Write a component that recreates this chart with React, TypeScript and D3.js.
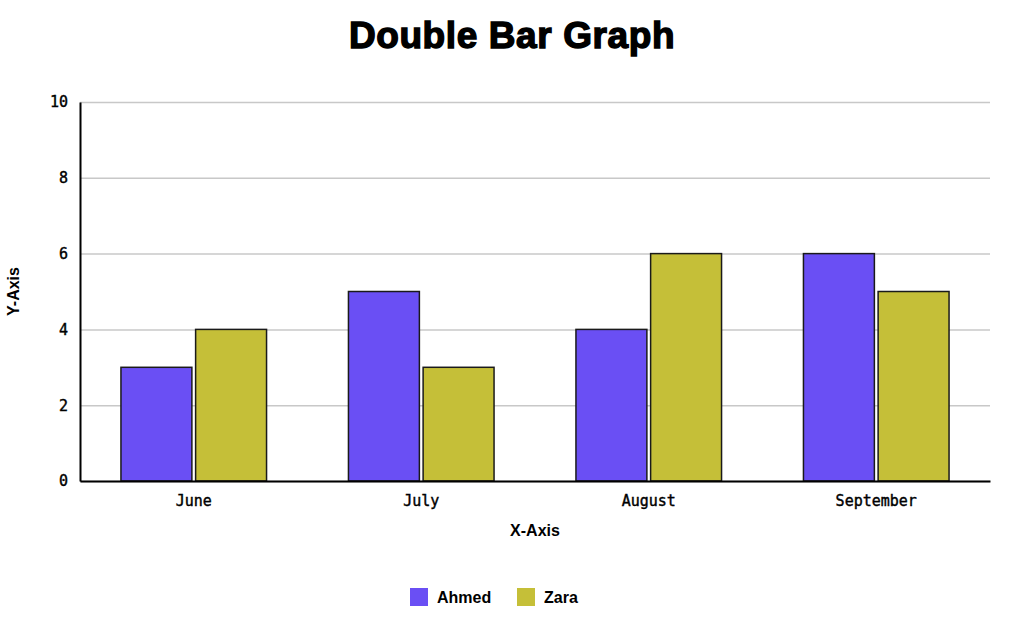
import * as d3 from "d3";
import { useEffect, useRef } from "react";

const months = ["June", "July", "August", "September"];
const seriesNames = ["Ahmed", "Zara"];
const ahmed = [3, 5, 4, 6];
const zara = [4, 3, 6, 5];
const yTicks = [0, 2, 4, 6, 8, 10];
const colors = ["#6a4ff4", "#c5bf38"];

const App = () => {
    const svgRef = useRef<SVGSVGElement>(null);
    const width = 1024;
    const height = 626;
    const marginLeft = 80;
    const marginTop = 102;
    const chartWidth = 910;
    const chartHeight = 379;

    useEffect(() => {
        if (svgRef.current) {
            drawChart();
        }
    }, [svgRef]);

    const drawChart = () => {
        const svg = d3.select(svgRef.current);
        svg.selectAll("*").remove();

        const values = [ahmed, zara];

        const scaleX = d3.scaleBand().domain(months).range([0, chartWidth]).paddingInner(0.36).paddingOuter(0.18);
        const scaleX1 = d3.scaleBand().domain(seriesNames).range([0, scaleX.bandwidth()]).paddingInner(0.05);
        const scaleY = d3.scaleLinear().domain([0, 10]).range([chartHeight, 0]);

        // Title
        svg.append("text")
            .attr("x", width / 2)
            .attr("y", 48)
            .attr("text-anchor", "middle")
            .style("font-family", "'Liberation Sans', Arial, sans-serif")
            .style("font-weight", "900")
            .style("font-size", "37px")
            .style("letter-spacing", "0.6px")
            .style("stroke", "#000")
            .style("stroke-width", "1.4px")
            .text("Double Bar Graph");

        const chart = svg
            .append("g")
            .attr("transform", "translate(" + marginLeft + "," + marginTop + ")");

        // Horizontal grid lines
        chart
            .append("g")
            .attr("color", "#c8c8c8")
            .call(
                d3.axisLeft(scaleY)
                    .tickValues(yTicks)
                    .tickSize(-chartWidth)
                    .tickFormat(() => "")
            )
            .call((g) => g.select(".domain").remove())
            .selectAll("line")
            .attr("stroke-width", 1.5);

        // Bars
        months.forEach((m, i) => {
            seriesNames.forEach((s, j) => {
                chart
                    .append("rect")
                    .attr("x", (scaleX(m) as number) + (scaleX1(s) as number))
                    .attr("y", scaleY(values[j][i]))
                    .attr("width", scaleX1.bandwidth())
                    .attr("height", chartHeight - scaleY(values[j][i]))
                    .attr("fill", colors[j])
                    .attr("stroke", "#1a1a1a")
                    .attr("stroke-width", 1.5);
            });
        });

        // Y axis
        const yAxis = chart
            .append("g")
            .call(d3.axisLeft(scaleY).tickValues(yTicks).tickSize(0).tickPadding(12));
        yAxis.select(".domain").attr("stroke", "#000").attr("stroke-width", 2);
        yAxis.selectAll("text")
            .style("font-family", "'DejaVu Sans Mono', monospace")
            .style("font-size", "15px")
            .style("stroke", "#000")
            .style("stroke-width", "0.4px")
            .attr("fill", "#000");

        // X axis
        const xAxis = chart
            .append("g")
            .attr("transform", "translate(0," + chartHeight + ")")
            .call(d3.axisBottom(scaleX).tickSize(0).tickPadding(14));
        xAxis.select(".domain").attr("stroke", "#000").attr("stroke-width", 2);
        xAxis.selectAll("text")
            .style("font-family", "'DejaVu Sans Mono', monospace")
            .style("font-size", "15px")
            .style("stroke", "#000")
            .style("stroke-width", "0.4px")
            .attr("fill", "#000");

        // Axis titles
        svg.append("text")
            .attr("x", marginLeft + chartWidth / 2)
            .attr("y", 536)
            .attr("text-anchor", "middle")
            .style("font-family", "'Liberation Sans', Arial, sans-serif")
            .style("font-weight", "bold")
            .style("font-size", "16px")
            .text("X-Axis");

        svg.append("text")
            .attr("transform", "translate(19," + (marginTop + chartHeight / 2) + ") rotate(-90)")
            .attr("text-anchor", "middle")
            .style("font-family", "'Liberation Sans', Arial, sans-serif")
            .style("font-weight", "bold")
            .style("font-size", "16px")
            .text("Y-Axis");

        // Legend
        const legendX = [410, 517];
        seriesNames.forEach((s, j) => {
            svg.append("rect")
                .attr("x", legendX[j])
                .attr("y", 588)
                .attr("width", 18)
                .attr("height", 18)
                .attr("fill", colors[j]);
            svg.append("text")
                .attr("x", legendX[j] + 27)
                .attr("y", 603)
                .style("font-family", "'Liberation Sans', Arial, sans-serif")
                .style("font-weight", "bold")
                .style("font-size", "16px")
                .text(s);
        });
    };

    return (
        <svg
            ref={svgRef}
            width={width}
            height={height}
            style={{ position: "absolute", left: 0, top: 0, background: "#fff" }}
        />
    );
};

export default App;
